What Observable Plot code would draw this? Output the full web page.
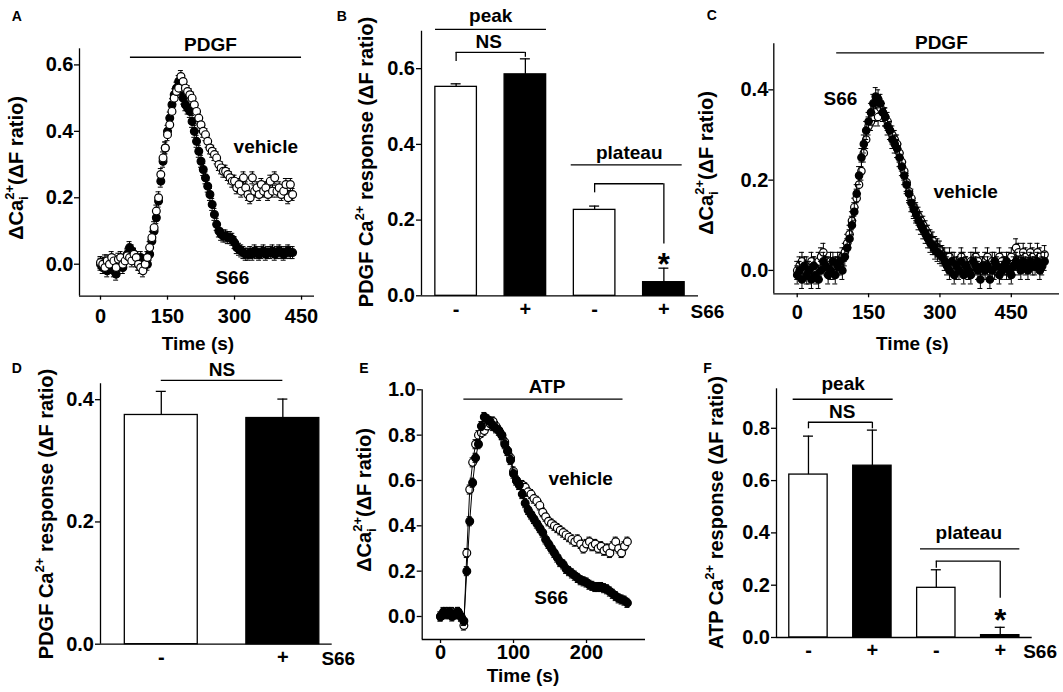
<!DOCTYPE html>
<html><head><meta charset="utf-8">
<script src="https://cdn.jsdelivr.net/npm/d3@7"></script>
<script src="https://cdn.jsdelivr.net/npm/@observablehq/plot@0.6"></script>
<style>
html,body{margin:0;padding:0;background:#fff;}
#fig{position:relative;width:1063px;height:692px;overflow:hidden;background:#fff;}
#fig svg{position:absolute;left:0;top:0;}
</style></head><body><div id="fig"></div>
<script>
// ---------------- DATA ----------------
// Panel A: PDGF, time course (s), ΔF ratio
const timeA = d3.range(0, 431, 5);
const aVehicle = [
0.005,0.00,-0.01,0.01,0.00,0.02,0.01,-0.01,0.015,0.02,
0.00,0.01,0.025,0.02,0.01,0.03,0.02,0.00,-0.01,-0.02,
0.00,0.02,0.05,0.08,0.11,0.16,0.20,0.27,0.32,0.35,
0.39,0.42,0.46,0.50,0.52,0.53,0.565,0.55,0.53,0.52,
0.51,0.50,0.48,0.46,0.44,0.42,0.40,0.39,0.37,0.35,
0.34,0.33,0.32,0.30,0.29,0.28,0.28,0.27,0.26,0.25,
0.25,0.23,0.24,0.22,0.26,0.23,0.21,0.20,0.26,0.22,
0.23,0.21,0.24,0.22,0.23,0.21,0.25,0.22,0.26,0.22,
0.23,0.21,0.22,0.24,0.20,0.24,0.21];
const aS66 = [
0.00,-0.01,0.01,-0.02,-0.01,0.00,-0.02,-0.03,-0.01,0.00,
-0.01,0.01,0.03,0.05,0.04,0.03,0.01,0.00,0.02,0.00,
0.01,0.00,0.03,0.07,0.10,0.14,0.19,0.25,0.31,0.35,
0.40,0.44,0.48,0.51,0.53,0.55,0.52,0.50,0.48,0.47,
0.46,0.43,0.40,0.37,0.34,0.31,0.285,0.26,0.235,0.21,
0.18,0.15,0.12,0.10,0.09,0.085,0.085,0.08,0.08,0.075,
0.065,0.05,0.045,0.04,0.035,0.03,0.03,0.035,0.03,0.04,
0.035,0.03,0.035,0.04,0.03,0.035,0.035,0.04,0.03,0.035,
0.04,0.035,0.03,0.035,0.04,0.035,0.035];
const semA = 0.018;

// Panel B: PDGF peak / plateau
const bPos = [1, 2, 3, 4];
const bTreat = ["-", "+", "-", "+"];
const bMean = [0.552, 0.585, 0.227, 0.036];
const bTop = [0.560, 0.626, 0.237, 0.073];

// Panel C: PDGF, second condition
const timeC = d3.range(0, 521, 5);
const cVehicle = [
0.00,0.01,0.02,0.00,0.01,-0.01,0.02,0.01,0.00,0.02,0.03,0.04,0.02,0.01,0.02,0.00,0.01,0.02,0.01,0.03,
0.04,0.06,0.08,0.11,0.14,0.16,0.19,0.22,0.26,0.29,0.32,0.33,0.34,0.35,0.34,0.36,0.35,0.34,0.33,0.31,
0.30,0.29,0.28,0.26,0.24,0.22,0.195,0.175,0.16,0.14,0.13,0.12,0.11,0.10,0.09,0.08,0.07,0.065,0.055,0.05,
0.045,0.035,0.03,0.02,0.03,0.01,0.02,0.00,0.01,0.03,0.02,0.01,0.00,0.02,0.01,0.03,0.02,0.00,0.01,0.02,
0.03,0.01,0.02,0.00,0.01,0.03,0.02,0.01,0.00,0.02,0.03,0.01,0.05,0.04,0.02,0.04,0.03,0.02,0.04,0.03,
0.02,0.04,0.03,0.02,0.035];
const cS66 = [
-0.01,0.00,-0.02,0.01,-0.01,0.00,-0.02,0.01,-0.01,-0.02,0.00,0.02,0.01,-0.01,0.00,0.02,-0.01,0.01,0.02,0.00,
0.03,0.05,0.07,0.10,0.13,0.17,0.21,0.25,0.28,0.31,0.33,0.35,0.37,0.385,0.38,0.37,0.35,0.34,0.32,0.31,
0.29,0.28,0.27,0.25,0.23,0.21,0.19,0.17,0.15,0.135,0.125,0.11,0.10,0.09,0.08,0.07,0.06,0.055,0.045,0.04,
0.035,0.03,0.02,0.01,0.00,0.02,-0.01,0.01,0.00,0.02,-0.01,0.01,0.00,-0.01,0.02,0.01,0.00,-0.02,0.01,0.00,
0.01,-0.02,0.00,0.02,0.01,-0.01,0.00,0.01,0.02,0.00,-0.01,0.01,0.02,0.01,0.00,0.02,0.01,0.00,0.02,0.01,
0.01,0.02,0.00,0.01,0.02];
const semC = 0.02;

// Panel D: PDGF response, two groups
const dPos = [1, 2];
const dTreat = ["-", "+"];
const dMean = [0.375, 0.370];
const dTop = [0.4136, 0.401];

// Panel E: ATP time course
const timeE = d3.range(0, 257, 4);
const eVehicle = [
0.00,0.01,0.02,0.01,0.02,0.01,0.02,0.00,-0.04,0.28,0.56,0.68,0.76,0.80,0.81,0.82,0.84,0.85,0.86,0.84,
0.82,0.80,0.77,0.73,0.70,0.64,0.60,0.58,0.58,0.57,0.55,0.54,0.52,0.51,0.49,0.46,0.44,0.42,0.41,0.40,
0.39,0.38,0.37,0.36,0.35,0.34,0.33,0.34,0.32,0.30,0.32,0.33,0.31,0.32,0.30,0.31,0.29,0.30,0.28,0.31,
0.33,0.30,0.28,0.31,0.33];
const eS66 = [
0.00,0.02,0.01,0.02,0.00,0.01,0.02,0.00,-0.02,0.20,0.42,0.59,0.70,0.76,0.84,0.88,0.87,0.86,0.84,0.83,
0.82,0.80,0.76,0.73,0.69,0.63,0.60,0.58,0.54,0.50,0.47,0.45,0.43,0.41,0.39,0.37,0.34,0.32,0.30,0.28,
0.26,0.24,0.23,0.21,0.20,0.19,0.18,0.17,0.16,0.155,0.15,0.14,0.135,0.13,0.13,0.13,0.125,0.12,0.11,0.10,
0.09,0.08,0.075,0.07,0.06];
const semE = 0.02;

// Panel F: ATP peak / plateau
const fPos = [1, 2, 3, 4];
const fTreat = ["-", "+", "-", "+"];
const fMean = [0.623, 0.657, 0.190, 0.009];
const fTop = [0.770, 0.793, 0.259, 0.039];

// ---------------- HELPERS ----------------
const W = 1063, H = 692;
const FONT = '"Liberation Sans", Arial, Helvetica, sans-serif';
const SW = 1.3;
const TICKFS = 20;
const fmt1 = d3.format(".1f");
const fig = document.getElementById("fig");

function panel(box, xd, yd, marks) {
  const svg = Plot.plot({
    width: W, height: H,
    marginLeft: box[0], marginTop: box[1], marginRight: W - box[2], marginBottom: H - box[3],
    x: {type: "linear", domain: xd, label: null},
    y: {type: "linear", domain: yd, label: null},
    style: `background:transparent;font-family:${FONT};font-size:19px;font-weight:bold;color:black;overflow:visible;max-width:none;`,
    marks
  });
  fig.appendChild(svg);
  return svg;
}
function frame(xd, yd) {
  return [
    Plot.ruleY([yd[0]], {x1: xd[0], x2: xd[1], stroke: "black", strokeWidth: SW}),
    Plot.ruleX([xd[0]], {y1: yd[0], y2: yd[1], stroke: "black", strokeWidth: SW})
  ];
}
function yAxis(ticks, pad = 1.5) {
  return Plot.axisY({ticks, tickSize: 5, tickPadding: pad, tickFormat: fmt1, label: null, stroke: "black", strokeWidth: SW, fill: "black", fontSize: TICKFS, fontWeight: "bold"});
}
function xAxisNum(ticks, pad) {
  return Plot.axisX({ticks, tickSize: 4, tickPadding: pad, tickFormat: d => String(d), label: null, stroke: "black", strokeWidth: SW, fill: "black", fontSize: TICKFS, fontWeight: "bold"});
}
function xAxisCat(pos, treat, pad) {
  return Plot.axisX({ticks: pos, tickSize: 0, tickPadding: pad, tickFormat: d => treat[pos.indexOf(d)], label: null, fill: "black", fontSize: TICKFS, fontWeight: "bold"});
}
function label(txt, x, y, o = {}) {
  return Plot.text([txt], {x, y, text: d => d, textAnchor: "middle", lineAnchor: "middle", fill: "black", fontSize: 19, fontWeight: "bold", ...o});
}
function star(x, y) {
  return Plot.text(["*"], {x, y, text: d => d, textAnchor: "middle", fill: "black", fontSize: 31, fontWeight: "bold", dy: 7.5});
}
function hline(y, x1, x2, o = {}) {
  return Plot.ruleY([y], {x1, x2, stroke: "black", strokeWidth: SW, ...o});
}
function vline(x, y1, y2) {
  return Plot.ruleX([x], {y1, y2, stroke: "black", strokeWidth: SW});
}
function trace(rows, key, sem, filled, r, withLine = false) {
  const m = [];
  if (withLine) m.push(Plot.line(rows, {x: "t", y: key, stroke: "black", strokeWidth: 1}));
  m.push(Plot.ruleX(rows, {x: "t", y1: d => d[key] - sem, y2: d => d[key] + sem, stroke: "black", strokeWidth: 1}));
  m.push(Plot.ruleY(rows, {x1: "t", x2: "t", y: d => d[key] + sem, insetLeft: -2.5, insetRight: -2.5, stroke: "black", strokeWidth: 1}));
  m.push(Plot.ruleY(rows, {x1: "t", x2: "t", y: d => d[key] - sem, insetLeft: -2.5, insetRight: -2.5, stroke: "black", strokeWidth: 1}));
  m.push(Plot.dot(rows, {x: "t", y: key, r, fill: filled ? "black" : "white", stroke: "black", strokeWidth: 1.2}));
  return m;
}
function bars(pos, treat, mean, top, cap = 5) {
  const rows = pos.map((p, i) => ({p, treat: treat[i], v: mean[i], e: top[i]}));
  return [
    Plot.rectY(rows, {x1: d => d.p - 0.3, x2: d => d.p + 0.3, y1: 0, y2: "v", fill: d => d.treat === "+" ? "black" : "white", stroke: "black", strokeWidth: SW}),
    Plot.ruleX(rows, {x: "p", y1: "v", y2: "e", stroke: "black", strokeWidth: SW}),
    Plot.ruleY(rows, {x1: "p", x2: "p", y: "e", insetLeft: -cap, insetRight: -cap, stroke: "black", strokeWidth: SW})
  ];
}
function addText(svg, x, y, parts, {rotate = false, size = 20, anchor = "middle"} = {}) {
  const t = d3.select(svg).append("text")
    .attr("transform", rotate ? `translate(${x},${y}) rotate(-90)` : `translate(${x},${y})`)
    .attr("text-anchor", anchor)
    .attr("font-family", FONT).attr("font-weight", "bold").attr("font-size", size).attr("fill", "black");
  for (const p of parts) {
    const s = t.append("tspan").text(p.t);
    if (p.dy) s.attr("dy", p.dy);
    if (p.dx) s.attr("dx", p.dx);
    if (p.size) s.attr("font-size", p.size);
  }
}
const caTitle = [{t: "ΔCa"}, {t: "i", dy: 5, size: 13}, {t: "2+", dy: -14, dx: -3.5, size: 13}, {t: "(ΔF ratio)", dy: 9}];
const respTitle = agonist => [{t: agonist + " Ca"}, {t: "2+", dy: -9, size: 13}, {t: " response (ΔF ratio)", dy: 9}];

// ---------------- PANEL A ----------------
{
  const xd = [-47, 479], yd = [-0.0963, 0.6485];
  const rows = timeA.map((t, i) => ({t, veh: aVehicle[i], s66: aS66[i]}));
  const svg = panel([79, 48.3, 314, 295.7], xd, yd, [
    ...frame(xd, yd), yAxis([0, 0.2, 0.4, 0.6], 1), xAxisNum([0, 150, 300, 450], 9),
    hline(0.623, 67, 450),
    label("PDGF", 246, 0.661),
    ...trace(rows, "s66", semA, true, 3.9),
    ...trace(rows, "veh", semA, false, 3.9),
    label("vehicle", 370, 0.354),
    label("S66", 295, -0.040),
    label("Time (s)", 218, -0.2405)
  ]);
  addText(svg, 22.7, 168, caTitle, {rotate: true});
  addText(svg, 11.7, 20.7, [{t: "A"}], {size: 14, anchor: "start"});
}

// ---------------- PANEL B ----------------
{
  const xd = [0.5, 4.5], yd = [0, 0.699];
  const svg = panel([421, 30.7, 698, 295.3], xd, yd, [
    ...bars(bPos, bTreat, bMean, bTop),
    ...frame(xd, yd), yAxis([0, 0.2, 0.4, 0.6], 1.5), xAxisCat(bPos, bTreat, 6),
    label("peak", 1.5, 0.7405),
    hline(0.7036, 1, 2, {insetLeft: -20.6, insetRight: -21.1}),
    label("NS", 1.47, 0.672),
    hline(0.643, 1, 2), vline(1, 0.643, 0.619), vline(2, 0.643, 0.630),
    label("plateau", 3.5, 0.377),
    hline(0.346, 3, 4, {insetLeft: -23.4, insetRight: -18.3}),
    hline(0.296, 3, 4), vline(3, 0.296, 0.272), vline(4, 0.296, 0.137),
    star(4, 0.102),
    label("S66", 4.385, -0.0433, {textAnchor: "start"})
  ]);
  addText(svg, 373, 162, respTitle("PDGF"), {rotate: true});
  addText(svg, 336.7, 20.7, [{t: "B"}], {size: 14, anchor: "start"});
}

// ---------------- PANEL C ----------------
{
  const xd = [-49.2, 551.3], yd = [-0.0518, 0.502];
  const rows = timeC.map((t, i) => ({t, veh: cVehicle[i], s66: cS66[i]}));
  const svg = panel([773.3, 43.3, 1059, 293.3], xd, yd, [
    ...frame(xd, yd), yAxis([0, 0.2, 0.4], 0.5), xAxisNum([0, 150, 300, 450], 7.2),
    hline(0.482, 83, 520),
    label("PDGF", 303, 0.503),
    ...trace(rows, "veh", semC, false, 3.7),
    ...trace(rows, "s66", semC, true, 3.7),
    label("S66", 91, 0.379),
    label("vehicle", 354, 0.175),
    label("Time (s)", 242, -0.163)
  ]);
  addText(svg, 713, 163, caTitle, {rotate: true});
  addText(svg, 706.7, 20, [{t: "C"}], {size: 14, anchor: "start"});
}

// ---------------- PANEL D ----------------
{
  const xd = [0.5, 2.406], yd = [0, 0.426];
  const svg = panel([100, 383.3, 331.7, 643.7], xd, yd, [
    ...bars(dPos, dTreat, dMean, dTop),
    ...frame(xd, yd), yAxis([0, 0.2, 0.4], 1.5), xAxisCat(dPos, dTreat, 5.5),
    label("NS", 1.5, 0.449),
    hline(0.4316, 1, 2),
    label("S66", 2.317, -0.0239, {textAnchor: "start"})
  ]);
  addText(svg, 53, 514, respTitle("PDGF"), {rotate: true});
  addText(svg, 11.7, 372.7, [{t: "D"}], {size: 14, anchor: "start"});
}

// ---------------- PANEL E ----------------
{
  const xd = [-25.1, 280.8], yd = [-0.1015, 1.0];
  const rows = timeE.map((t, i) => ({t, veh: eVehicle[i], s66: eS66[i]}));
  const svg = panel([421.7, 389.3, 645, 639], xd, yd, [
    ...frame(xd, yd), yAxis([0, 0.2, 0.4, 0.6, 0.8, 1.0], 1.5), xAxisNum([0, 100, 200], 1.5),
    hline(0.9585, 32, 250),
    label("ATP", 146, 1.0115),
    ...trace(rows, "veh", semE, false, 3.9, true),
    ...trace(rows, "s66", semE, true, 3.9, true),
    label("vehicle", 192, 0.609),
    label("S66", 151.6, 0.0825),
    label("Time (s)", 113, -0.262)
  ]);
  addText(svg, 370.5, 500, caTitle, {rotate: true});
  addText(svg, 359.3, 372.7, [{t: "E"}], {size: 14, anchor: "start"});
}

// ---------------- PANEL F ----------------
{
  const xd = [0.5, 4.5], yd = [0, 0.951];
  const svg = panel([776, 388.3, 1031.7, 637], xd, yd, [
    ...bars(fPos, fTreat, fMean, fTop),
    ...frame(xd, yd), yAxis([0, 0.2, 0.4, 0.6, 0.8], 1.5), xAxisCat(fPos, fTreat, 5.5),
    label("peak", 1.543, 0.970),
    hline(0.911, 1, 2, {insetLeft: -15.3, insetRight: -20.8}),
    label("NS", 1.528, 0.862),
    hline(0.823, 1, 2), vline(1, 0.823, 0.798), vline(2, 0.823, 0.798),
    label("plateau", 3.508, 0.399),
    hline(0.339, 3, 4, {insetLeft: -15.8, insetRight: -19.6}),
    hline(0.292, 3, 4), vline(3, 0.292, 0.265), vline(4, 0.292, 0.150),
    star(4, 0.0906),
    label("S66", 4.359, -0.056, {textAnchor: "start"})
  ]);
  addText(svg, 723, 512.5, respTitle("ATP"), {rotate: true});
  addText(svg, 703.3, 372.7, [{t: "F"}], {size: 14, anchor: "start"});
}
</script>
</body></html>
